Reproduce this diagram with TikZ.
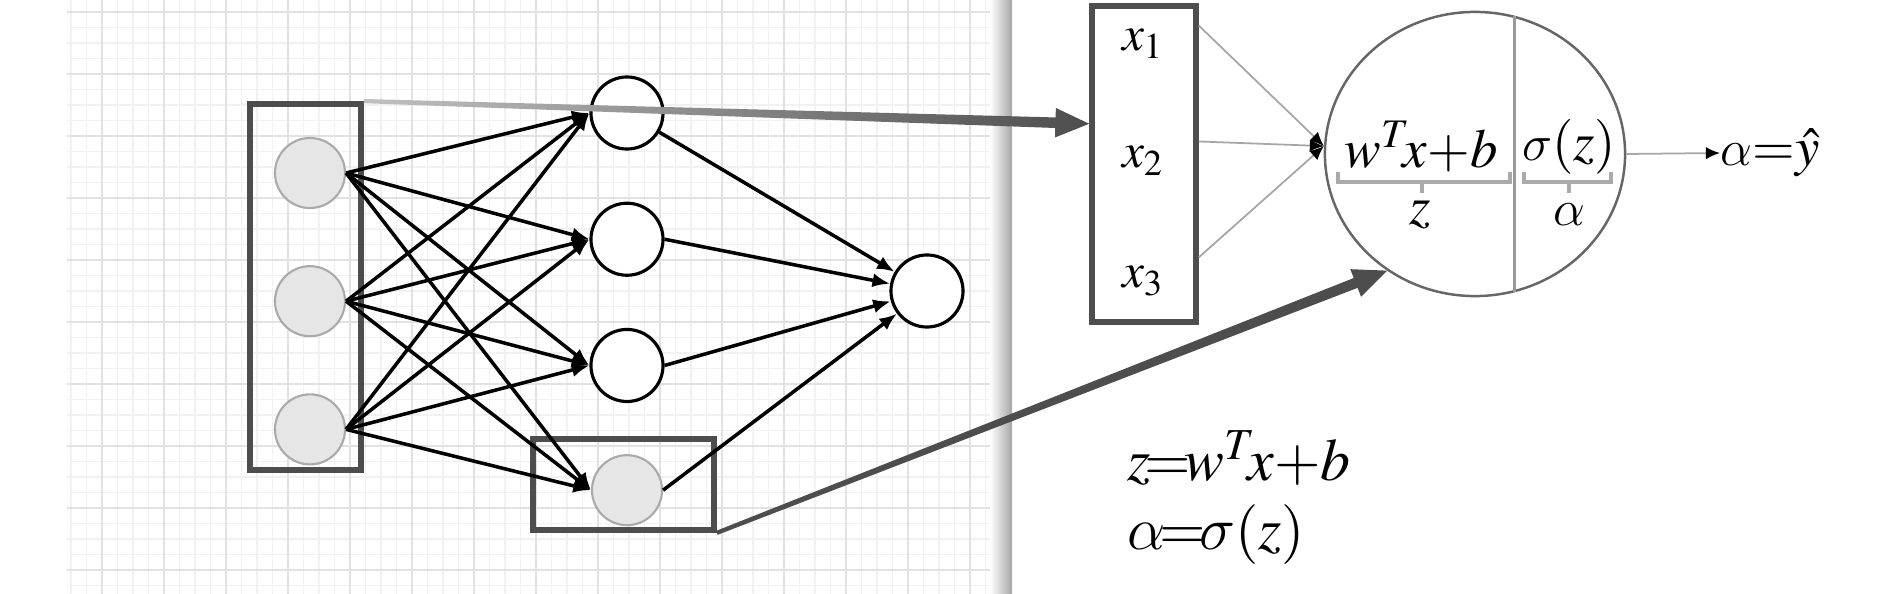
\documentclass[tikz,border=0pt]{standalone}
\usepackage{mathptmx}
\DeclareSymbolFont{cmletters}{OML}{cmm}{m}{it}
\DeclareMathSymbol{\alpha}{\mathord}{cmletters}{"0B}
\DeclareMathSymbol{\sigma}{\mathord}{cmletters}{"1B}
\usetikzlibrary{arrows.meta, positioning, calc, shapes.geometric}
\definecolor{boxgray}{RGB}{77,77,77}
\definecolor{gridmajor}{RGB}{226,226,226}
\definecolor{gridminor}{RGB}{241,241,241}
\definecolor{nodegray}{RGB}{230,230,230}
\definecolor{rimgray}{RGB}{170,170,170}
\newcommand{\tk}{\mkern-2mu}
\newcommand{\wtx}{w^{T}\mkern-2.5mu x{+}b}
% tapered zoom arrow: start, tip, paint options
\newcommand{\zoomarrow}[3]{%
  \coordinate (za) at (#1);
  \coordinate (zb) at (#2);
  \coordinate (zc) at ($(zb)!9.6pt!(za)$);
  \path[#3] ($(za)!0.6pt!90:(zb)$) -- ($(zc)!1.5pt!-90:(za)$) -- ($(zc)!4.2pt!-90:(za)$)
    -- (zb) -- ($(zc)!4.2pt!90:(za)$) -- ($(zc)!1.5pt!90:(za)$) -- ($(za)!0.6pt!-90:(zb)$) -- cycle;
}

\begin{document}
\begin{tikzpicture}[
  x=0.01cm, y=-0.01cm,
  innode/.style = {circle, draw=rimgray, fill=nodegray, line width=0.6pt,
                   minimum size=0.7cm, inner sep=0pt},
  hidnode/.style = {circle, draw=black, fill=white, line width=0.9pt,
                    minimum size=0.72cm, inner sep=0pt},
  layerbox/.style = {rectangle, draw=boxgray, line width=1.6pt, inner sep=0pt},
  wire/.style = {-{Latex[length=5pt, width=4pt]}, line width=1pt},
  feed/.style = {-{Latex[length=4pt, width=3.5pt, color=black]}, line width=0.5pt, gray!70},
  brace/.style = {line width=1pt, rimgray},
  var/.style = {inner sep=1pt, font=\fontsize{14}{16}\selectfont},
  formula/.style = {inner sep=0pt, font=\fontsize{15.6}{18}\selectfont},
  eqn/.style = {anchor=west, inner sep=0pt, font=\fontsize{17}{20}\selectfont}
]
\useasboundingbox (0,0) rectangle (1890,594);
\fill[white] (0,0) rectangle (1890,594);

% grid paper
\foreach \gx in {71,86.5,...,1012} \draw[gridminor, line width=0.4pt] (\gx,0) -- (\gx,594);
\foreach \gy in {12,27.5,...,594} \draw[gridminor, line width=0.4pt] (67,\gy) -- (1012,\gy);
\foreach \gx in {102,164,...,1012} \draw[gridmajor, line width=0.8pt] (\gx,0) -- (\gx,594);
\foreach \gy in {12,74,...,594} \draw[gridmajor, line width=0.8pt] (67,\gy) -- (1012,\gy);
\shade[left color=white, right color=black!35] (990,0) rectangle (1012,594);

% network
\node[innode] (i1) at (310,173) {};
\node[innode, below=0.56cm of i1] (i2) {};
\node[innode, below=0.56cm of i2] (i3) {};
\node[hidnode] (h1) at (627,113) {};
\node[hidnode, below=0.51cm of h1] (h2) {};
\node[hidnode, below=0.51cm of h2] (h3) {};
\node[innode, below=0.51cm of h3] (h4) {};
\node[hidnode] (out) at (927,291) {};
\node[layerbox, minimum width=1.11cm, minimum height=3.66cm] (inbox) at (305.5,287) {};
\node[layerbox, minimum width=1.81cm, minimum height=0.91cm] (hbox) at (623.5,484.5) {};
\foreach \i in {1,2,3}
  \foreach \h in {1,...,4}
    \draw[wire] (i\i.east) -- (h\h.west);
\draw[wire] (h1) -- (out);
\foreach \h in {2,3,4} \draw[wire] (h\h.east) -- (out);

% single neuron
\node[layerbox, minimum width=1.04cm, minimum height=3.16cm] (xbox) at (1144,164) {};
\node[var] (x1) at (1143,44) {$x_1$};
\node[var] (x2) at (1143,161) {$x_2$};
\node[var] (x3) at (1143,281) {$x_3$};
\node[ellipse, draw=black!60, line width=0.7pt, minimum width=3cm, minimum height=2.84cm,
      inner sep=0pt] (big) at (1475,154) {};
\draw[gray!80, line width=1pt] (big.74) -- (big.-74);
\draw[feed] ($(xbox.north east)!0.07!(xbox.south east)$) -- (big.177);
\draw[feed] ($(xbox.north east)!0.43!(xbox.south east)$) -- (big.177);
\draw[feed] ($(xbox.north east)!0.79!(xbox.south east)$) -- (big.177);
\node[formula] (wx) at (1421,147) {$\wtx$};
\node[formula] (sz) at (1569,147) {$\sigma(z)$};
\draw[brace] (1338,172) -- (1338,182) -- (1510,182) -- (1510,172);
\draw[brace] (1422,182) -- (1422,193);
\draw[brace] (1524,172) -- (1524,182) -- (1611,182) -- (1611,172);
\draw[brace] (1569,182) -- (1569,193);
\node[formula] (zlab) at (1420,215) {$z$};
\node[formula] (alab) at (1569,215) {$\alpha$};
\node[formula, anchor=west] (yhat) at (1720,153) {$\alpha{=}\hat{y}$};
\draw[feed] (big.east) -- (yhat.west);

% zoom arrows
\zoomarrow{inbox.north east}{$(xbox.north west)!0.375!(xbox.south west)$}
  {shade, left color=boxgray!35, middle color=boxgray, right color=boxgray}
\zoomarrow{hbox.south east}{big.233}{fill=boxgray}

% equations
\node[eqn] (eq1) at (1127,458) {$z\tk{=}\tk\wtx$};
\node[eqn] (eq2) at (1127,535) {$\alpha\tk{=}\tk\sigma(z)$};
\end{tikzpicture}
\end{document}
